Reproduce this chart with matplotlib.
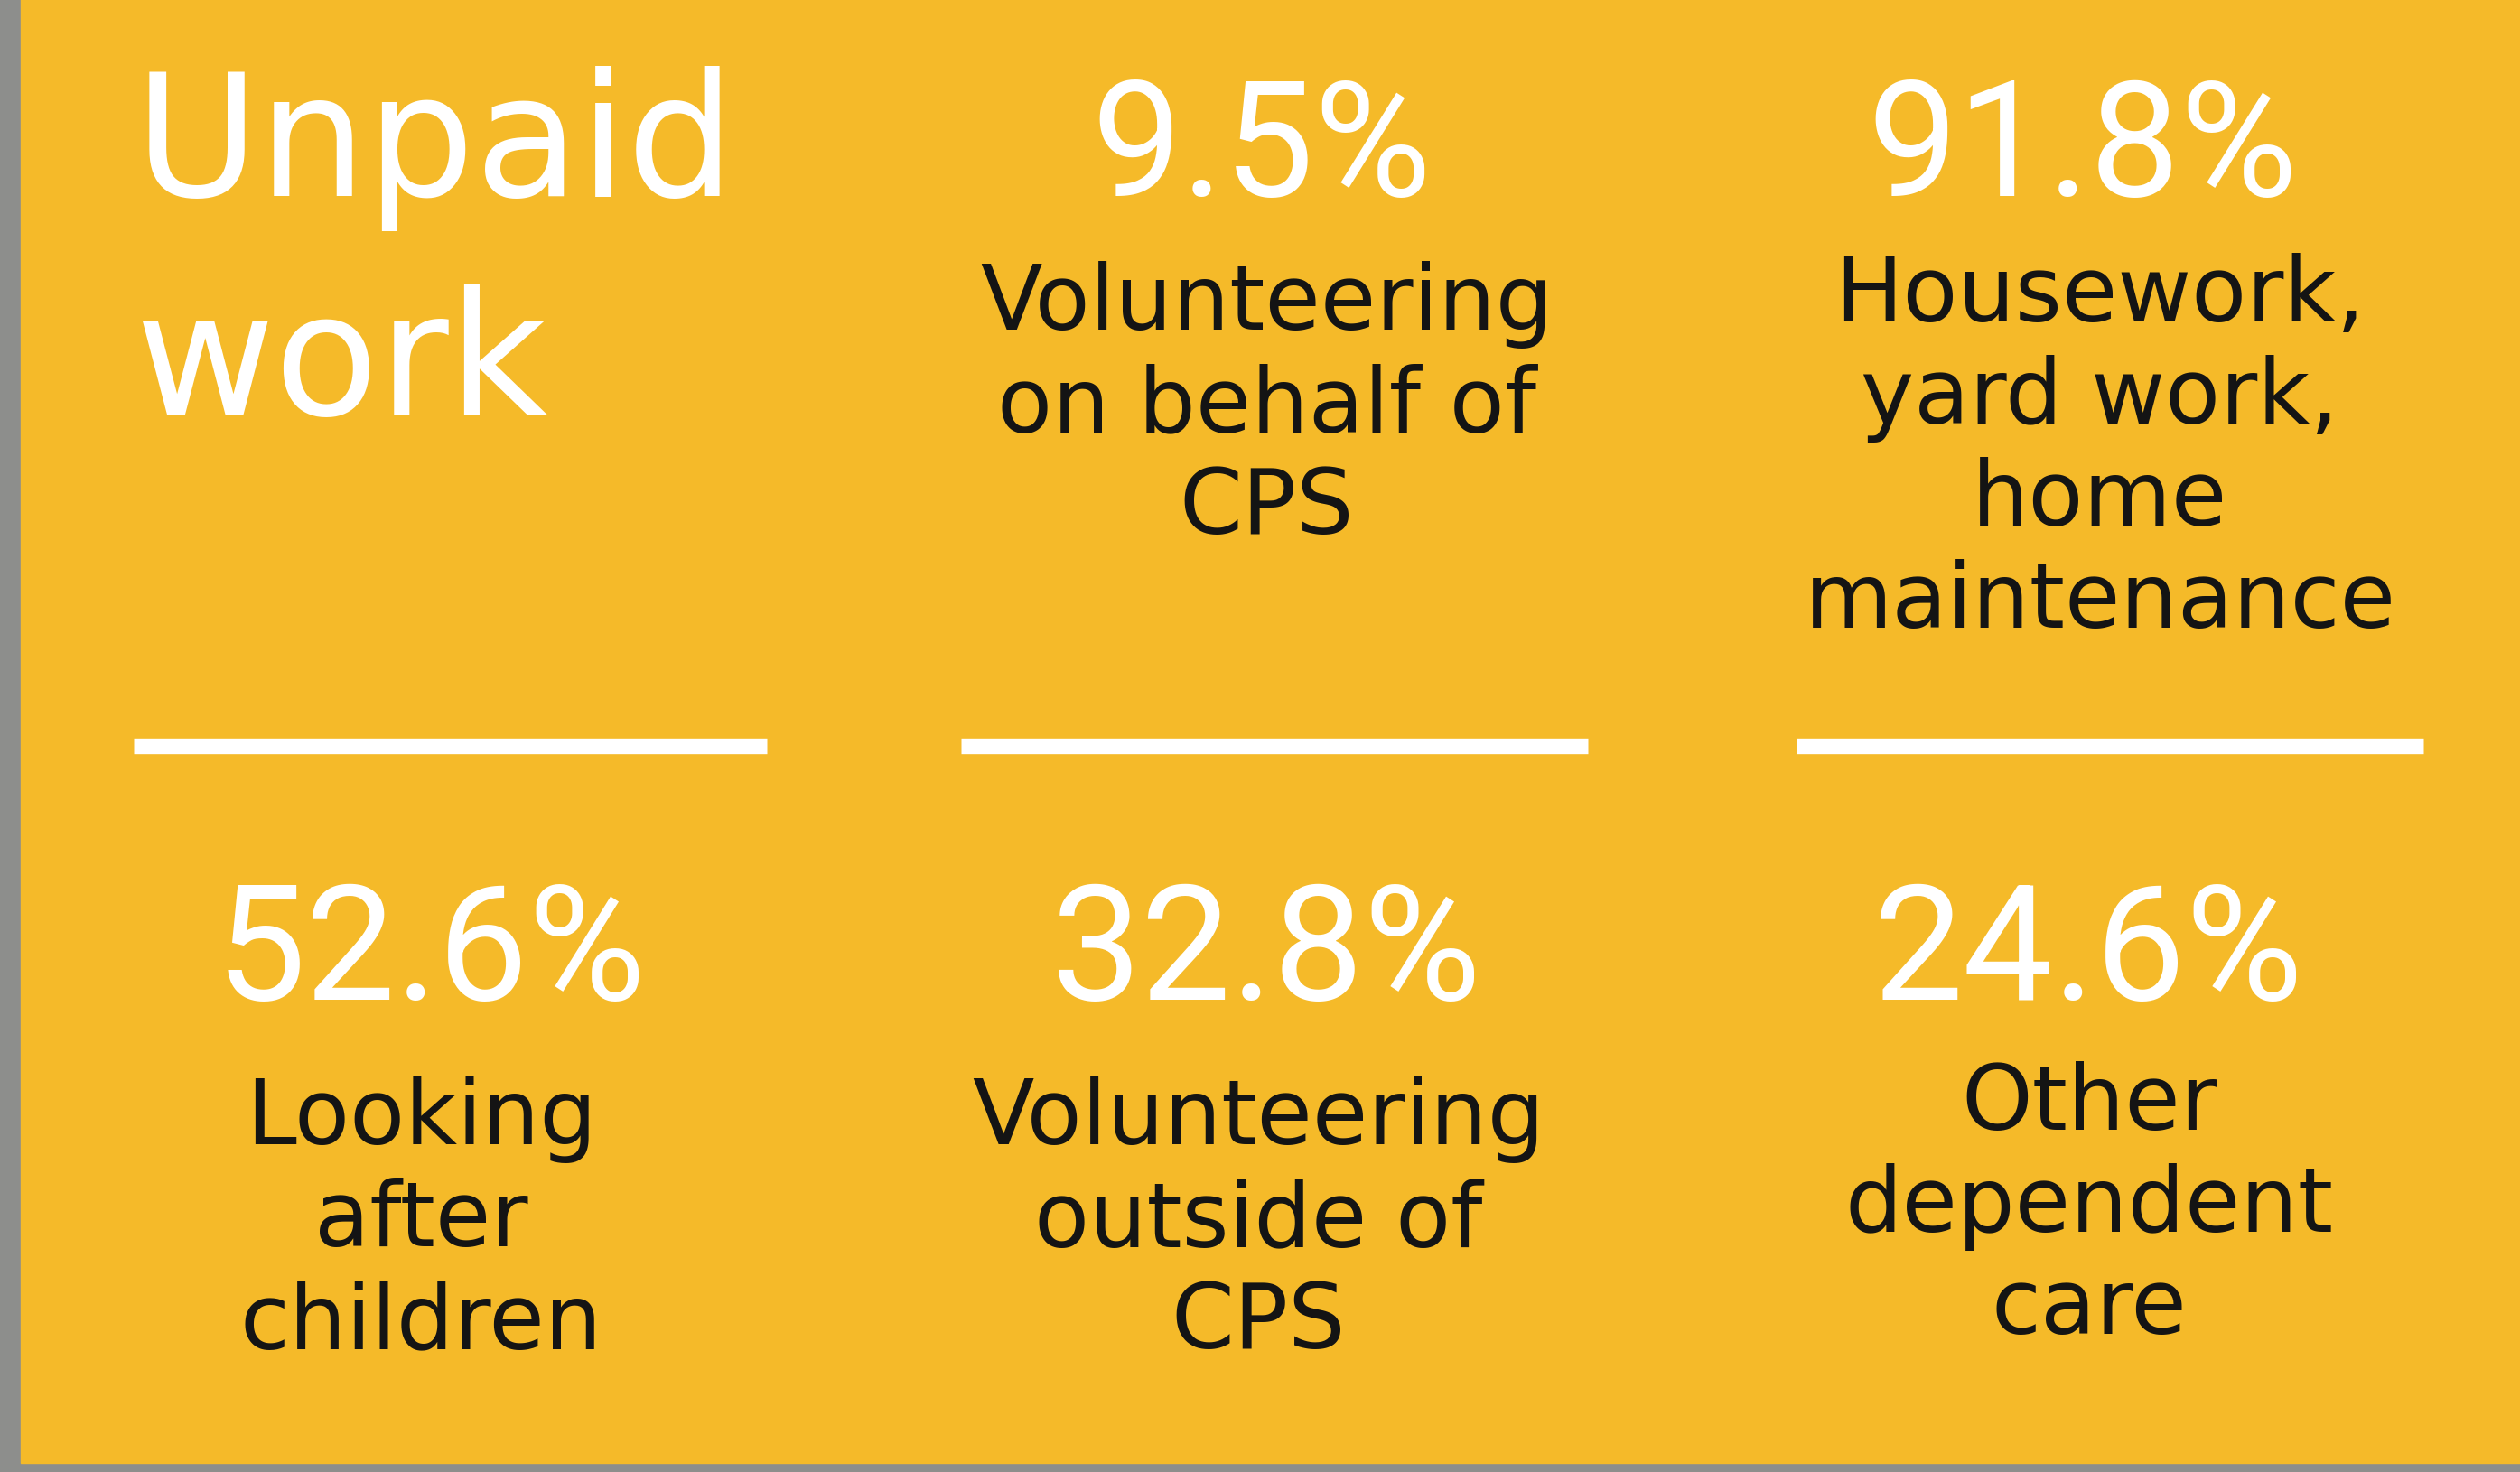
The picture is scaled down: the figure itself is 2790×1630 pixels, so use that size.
import matplotlib.pyplot as plt
from matplotlib.patches import Rectangle

# panel data
title_lines = ['Unpaid', 'work']
values = ['9.5%', '91.8%', '52.6%', '32.8%', '24.6%']
labels = [
    ['Volunteering', 'on behalf of', 'CPS'],
    ['Housework,', 'yard work,', 'home', 'maintenance'],
    ['Looking', 'after', 'children'],
    ['Volunteering', 'outside of', 'CPS'],
    ['Other', 'dependent', 'care'],
]

W, H = 2790, 1631
yellow = '#F5BA29'
grey = '#8D8E8C'

fig = plt.figure(figsize=(W / 100, H / 100), dpi=100)
fig.patch.set_facecolor(grey)
ax = fig.add_axes([0, 0, 1, 1])
ax.set_xlim(0, W)
ax.set_ylim(H, 0)
ax.axis('off')

ax.add_patch(Rectangle((23, 0), W - 23, 1621, color=yellow, zorder=0))

# title
ax.text(149, 217, title_lines[0], fontsize=136, color='white',
        family='DejaVu Sans', va='baseline', ha='left')
ax.text(149, 459, title_lines[1], fontsize=136, color='white',
        family='DejaVu Sans', va='baseline', ha='left')

# cell positions: (number centre x, number baseline, label centre x, first label baseline)
cells = [
    (1397, 217, 1402, 365),
    (2306, 217, 2325, 356),
    (477, 1107, 466, 1267),
    (1402, 1107, 1393, 1267),
    (2312, 1107, 2313, 1251),
]
step = 113

for (nx, ny, lx, ly), val, lab in zip(cells, values, labels):
    ax.text(nx, ny, val, fontsize=128, color='white', family='Roboto',
            va='baseline', ha='center')
    for i, line in enumerate(lab):
        ax.text(lx, ly + i * step, line, fontsize=72, color='#141414',
                family='DejaVu Sans', va='baseline', ha='center')

# divider lines
for x0, x1 in [(148, 849), (1064, 1758), (1989, 2683)]:
    ax.plot([x0, x1], [827, 827], color='white', lw=12.5,
            solid_capstyle='butt')

fig.savefig('out.png', dpi=100, facecolor=fig.get_facecolor())
